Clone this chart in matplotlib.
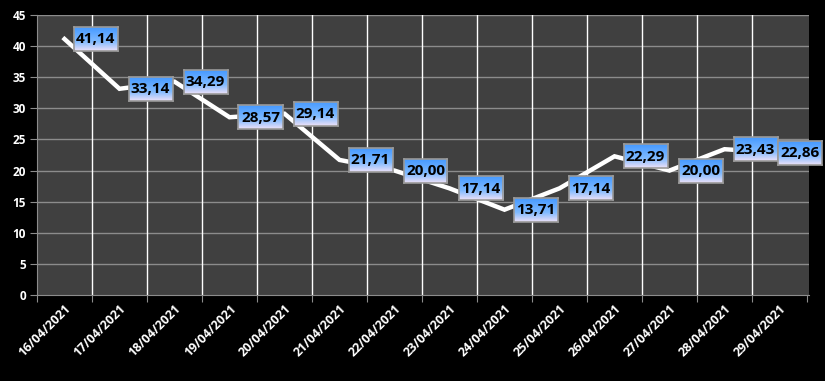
import matplotlib
matplotlib.use("Agg")
import matplotlib.pyplot as plt
import numpy as np

dates = ["16/04/2021", "17/04/2021", "18/04/2021", "19/04/2021", "20/04/2021",
         "21/04/2021", "22/04/2021", "23/04/2021", "24/04/2021", "25/04/2021",
         "26/04/2021", "27/04/2021", "28/04/2021", "29/04/2021"]
values = [41.14, 33.14, 34.29, 28.57, 29.14, 21.71, 20.00, 17.14, 13.71, 17.14,
          22.29, 20.00, 23.43, 22.86]
yticks = [0, 5, 10, 15, 20, 25, 30, 35, 40, 45]

W, H = 825, 381
fig = plt.figure(figsize=(W / 100, H / 100), dpi=100)
fig.patch.set_facecolor("black")
ax = fig.add_axes([37 / W, 86 / H, (809 - 37) / W, (295 - 15) / H])
ax.set_facecolor("#404040")

n = len(values)
x = np.arange(n)
ax.set_xlim(-0.5, n - 0.5 + 2 / 55)
ax.set_ylim(0, 45)

for yv in yticks[1:]:
    ax.axhline(yv, color="#8c8c8c", lw=1, zorder=1)
for b in np.arange(0.5, n - 0.5, 1):
    ax.axvline(b, color="white", lw=1, zorder=1)

ax.plot(x, values, color="white", lw=3.2, zorder=3, solid_joinstyle="miter")

ax.set_yticks(yticks)
ax.set_yticklabels([str(v) for v in yticks], color="white", fontsize=8.5,
                   fontweight="bold", family="Open Sans")
ax.set_xticks(np.arange(-0.5, n, 1))
ax.set_xticklabels([])
ax.set_xticks(x, minor=True)
ax.set_xticklabels(dates, minor=True, rotation=45, ha="right", va="top",
                   rotation_mode="anchor", color="white", fontsize=9,
                   fontweight="bold", family="Open Sans")
ax.tick_params(axis="x", which="minor", length=0, pad=5)
ax.tick_params(axis="x", which="major", length=5, color="#8c8c8c")
ax.tick_params(axis="y", length=5, color="#8c8c8c", pad=3)
for s in ["top", "right"]:
    ax.spines[s].set_visible(False)
for s in ["left", "bottom"]:
    ax.spines[s].set_color("#8c8c8c")

# gradient labels
fig.canvas.draw()
g = np.linspace(0, 1, 64)
top = np.array([0.27, 0.60, 1.0])
mid = np.array([0.50, 0.73, 1.0])
bot = np.array([0.93, 0.88, 0.97])
img = np.zeros((64, 8, 3))
for i, t in enumerate(g):
    if t < 0.6:
        c = top + (mid - top) * (t / 0.6)
    else:
        c = mid + (bot - mid) * ((t - 0.6) / 0.4)
    img[i, :] = c
bw, bh = 44, 24
for xi, v in zip(x, values):
    px, py = ax.transData.transform((xi, v))
    left = px + 9
    if left + bw > W - 3:
        left = W - 3 - bw
    bottom = py - bh / 2
    lax = fig.add_axes([left / W, bottom / H, bw / W, bh / H])
    lax.imshow(img, aspect="auto", extent=(0, 1, 0, 1), interpolation="bilinear",
               origin="upper")
    lax.set_xlim(0, 1)
    lax.set_ylim(0, 1)
    lax.set_xticks([])
    lax.set_yticks([])
    for s in lax.spines.values():
        s.set_color("#9a9a9a")
        s.set_linewidth(1.2)
    lax.text(0.5, 0.48, f"{v:.2f}".replace(".", ","), ha="center", va="center",
             fontsize=11, fontweight="bold", color="black", family="Open Sans")

fig.savefig("out.png", dpi=100, facecolor="black")
